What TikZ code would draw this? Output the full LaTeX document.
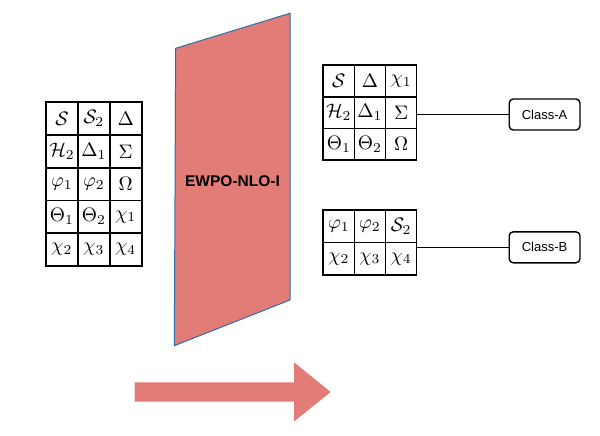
\documentclass[tikz,border=0pt]{standalone}
\usepackage{graphicx}
\usepackage{fontspec}
\setsansfont{Liberation Sans}
\definecolor{panelred}{HTML}{E27C76}
\definecolor{panelblue}{HTML}{2F6CA8}
\tikzset{
  cell/.style={draw, line width=1.7pt, inner sep=0pt},
  classbox/.style={draw, line width=1.4pt, rounded corners=4pt, minimum width=70.7pt, minimum height=31pt, inner sep=0pt, font=\sffamily\fontsize{13}{15}\selectfont},
  conn/.style={line width=1.6pt},
}
\newcommand{\cellmath}[1]{\scalebox{1.95}{$#1$}}
\begin{document}
\begin{tikzpicture}[x=1pt,y=-1pt]
\useasboundingbox (0,0) rectangle (600,436);
% panel
\draw[panelblue, line width=1pt, fill=panelred] (175.7,48.3) -- (290,13.3) -- (290,300) -- (174.3,345.7) -- cycle;
\node[font=\sffamily\bfseries\fontsize{15.5}{18}\selectfont] (panel) at (232.5,181) {EWPO-NLO-I};
% big arrow
\fill[panelred] (134.7,382.3) -- (294,382.3) -- (294,362.3) -- (330.7,392) -- (294,421.5) -- (294,401.7) -- (134.7,401.7) -- cycle;
% left table
\foreach \r/\c/\t in {1/1/\mathcal{S},1/2/\mathcal{S}_2,1/3/\Delta,
  2/1/\mathcal{H}_2,2/2/\Delta_1,2/3/\Sigma,
  3/1/\varphi_1,3/2/\varphi_2,3/3/\Omega,
  4/1/\Theta_1,4/2/\Theta_2,4/3/\chi_1,
  5/1/\chi_2,5/2/\chi_3,5/3/\chi_4}
  \node[cell, minimum width=31.9pt, minimum height=32.7pt] (L-\r-\c) at ({46+31.9*(\c-0.5)},{102.3+32.7*(\r-0.5)}) {\cellmath{\t}};
% top right table
\foreach \r/\c/\t in {1/1/\mathcal{S},1/2/\Delta,1/3/\chi_1,
  2/1/\mathcal{H}_2,2/2/\Delta_1,2/3/\Sigma,
  3/1/\Theta_1,3/2/\Theta_2,3/3/\Omega}
  \node[cell, minimum width=31.1pt, minimum height=31.7pt] (TA-\r-\c) at ({323.3+31.1*(\c-0.5)},{65+31.7*(\r-0.5)}) {\cellmath{\t}};
% bottom right table
\foreach \r/\c/\t in {1/1/\varphi_1,1/2/\varphi_2,1/3/\mathcal{S}_2,
  2/1/\chi_2,2/2/\chi_3,2/3/\chi_4}
  \node[cell, minimum width=31.1pt, minimum height=32.5pt] (TB-\r-\c) at ({323.3+31.1*(\c-0.5)},{210+32.5*(\r-0.5)}) {\cellmath{\t}};
\node[classbox] (CA) at (544.6,114.5) {Class-A};
\node[classbox] (CB) at (544.6,247.3) {Class-B};
\draw[conn] (CA.west -| TA-2-3.east) -- (CA.west);
\draw[conn] (CB.west -| TB-1-3.south east) -- (CB.west);
\end{tikzpicture}
\end{document}
